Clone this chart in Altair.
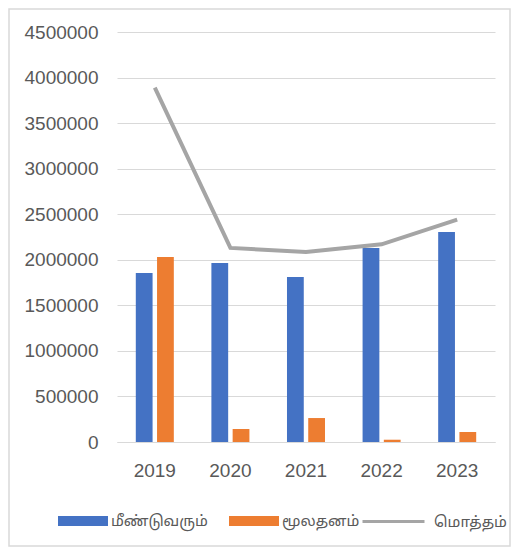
import altair as alt
import pandas as pd

years = ["2019", "2020", "2021", "2022", "2023"]
recurring = [1855000, 1965000, 1810000, 2130000, 2305000]
capital = [2030000, 143000, 263000, 25000, 110000]
total = [3890000, 2130000, 2085000, 2170000, 2440000]
series_names = ["மீண்டுவரும்", "மூலதனம்"]
total_name = "மொத்தம்"
y_ticks = [0, 500000, 1000000, 1500000, 2000000, 2500000, 3000000, 3500000, 4000000, 4500000]

bars_df = pd.DataFrame({
    "year": years * 2,
    "series": [series_names[0]] * len(years) + [series_names[1]] * len(years),
    "value": recurring + capital,
})
line_df = pd.DataFrame({"year": years, "value": total, "series": [total_name] * len(years)})

font = "Liberation Sans"
tamil_font = "Noto Sans Tamil, Lohit Tamil, Latha, Noto Sans, sans-serif"
label_color = "#595959"
grid_color = "#D9D9D9"

x_enc = alt.X(
    "year:N",
    scale=alt.Scale(paddingInner=0.497, paddingOuter=0.2487),
    axis=alt.Axis(title=None, labelAngle=0, ticks=False, domain=True, domainColor=grid_color,
                  labelPadding=19, labelFontSize=19, labelColor=label_color, labelFont=font, grid=False),
)
y_enc = alt.Y(
    "value:Q",
    scale=alt.Scale(domain=[0, 4500000], nice=False),
    axis=alt.Axis(title=None, values=y_ticks, format="d", ticks=False, domain=False,
                  grid=True, gridColor=grid_color, gridWidth=1,
                  labelPadding=19, labelFontSize=19, labelColor=label_color, labelFont=font),
)

frame = alt.Chart(pd.DataFrame({"k": [0]})).mark_rect(
    fill="white", fillOpacity=0, stroke=grid_color, strokeWidth=1.5
).encode(x=alt.value(-108), x2=alt.value(393), y=alt.value(-23), y2=alt.value(514))

bars = alt.Chart(bars_df).mark_bar().encode(
    x=x_enc,
    y=y_enc,
    xOffset=alt.XOffset("series:N", sort=series_names,
                        scale=alt.Scale(domain=series_names, paddingInner=0.21, paddingOuter=0)),
    color=alt.Color(
        "series:N",
        sort=series_names,
        scale=alt.Scale(domain=series_names, range=["#4472C4", "#ED7D31"]),
        legend=alt.Legend(title=None, orient="none", legendX=-59, legendY=464, direction="horizontal",
                          symbolType="M-1,-0.2H1V0.2H-1Z", symbolSize=2500, symbolStrokeWidth=0,
                          symbolOpacity=1, labelFont=tamil_font, labelFontSize=15, labelColor=label_color,
                          labelOffset=3, columnPadding=21, padding=0),
    ),
)

line = alt.Chart(line_df).mark_line(strokeWidth=4).encode(
    x=x_enc,
    y=y_enc,
    stroke=alt.Stroke(
        "series:N",
        scale=alt.Scale(domain=[total_name], range=["#A5A5A5"]),
        legend=alt.Legend(title=None, orient="none", legendX=244, legendY=457, direction="horizontal",
                          symbolType="stroke", symbolSize=3844, symbolStrokeWidth=3,
                          labelFont=tamil_font, labelFontSize=15, labelColor=label_color,
                          labelOffset=8, padding=0),
    ),
)

chart = alt.layer(frame, bars, line).properties(
    width=378,
    height=410,
    autosize=alt.AutoSizeParams(type="none"),
    padding={"left": 109, "top": 24, "right": 17, "bottom": 106},
).configure_view(stroke=None)

chart.save("out.html", embed_options={"renderer": "svg", "actions": False})
